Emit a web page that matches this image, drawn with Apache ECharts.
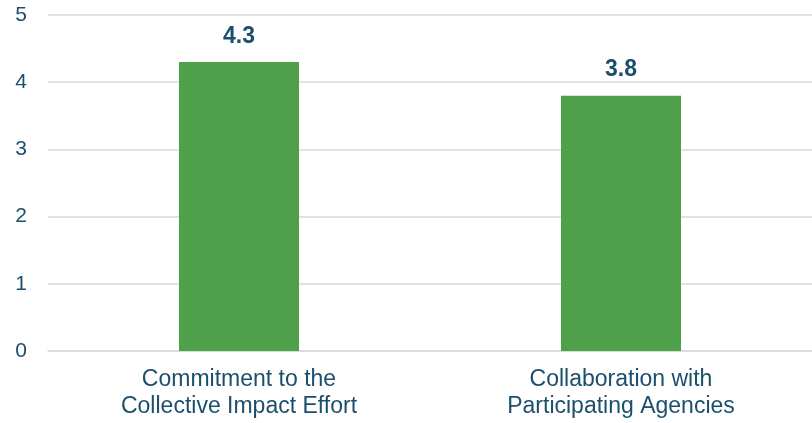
<!DOCTYPE html>
<html><head><meta charset="utf-8">
<script src="https://cdn.jsdelivr.net/npm/echarts@6/dist/echarts.min.js"></script>
<style>html,body{margin:0;padding:0;background:#fff}#c{width:812px;height:423px}</style>
</head><body><div id="c"></div>
<script>
const categories = ["Commitment to the\nCollective Impact Effort", "Collaboration with\nParticipating Agencies"];
const values = [4.3, 3.8];
const yTicks = [0, 1, 2, 3, 4, 5];
const chart = echarts.init(document.getElementById('c'));
const txt = '#1b4f6c';
chart.setOption({
  animation: false,
  grid: {left: 48, right: 0, top: 15, bottom: 72},
  xAxis: {type: 'category', data: categories,
    axisLine: {lineStyle: {color: '#d9d9d9', width: 1.5}}, axisTick: {show: false},
    axisLabel: {color: txt, fontSize: 23, fontFamily: 'Liberation Sans, Arial', lineHeight: 27, margin: 15}},
  yAxis: {type: 'value', min: yTicks[0], max: yTicks[yTicks.length-1], interval: 1,
    axisLine: {show: false}, axisTick: {show: false},
    splitLine: {lineStyle: {color: '#d9d9d9', width: 1.5}},
    axisLabel: {color: txt, fontSize: 21, fontFamily: 'Liberation Sans, Arial', margin: 21}},
  series: [{type: 'bar', data: values, barWidth: 120, itemStyle: {color: '#4ea04a'},
    label: {show: true, position: 'top', distance: 14, color: txt, fontSize: 23, fontWeight: 'bold', fontFamily: 'Liberation Sans, Arial'}}]
});
</script></body></html>
